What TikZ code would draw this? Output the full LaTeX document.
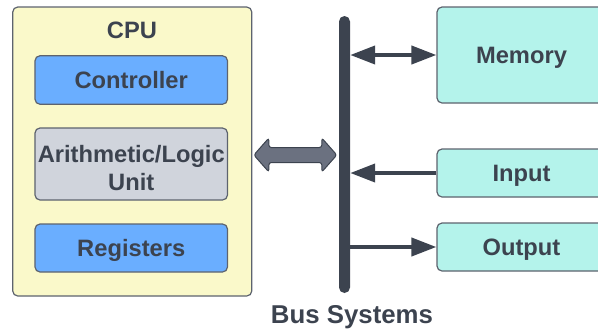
\documentclass[tikz,border=0pt]{standalone}
\usepackage{fontspec}
\setmainfont{Liberation Sans}
\usetikzlibrary{arrows.meta,calc}

\definecolor{ink}{HTML}{3C434F}
\definecolor{edge}{HTML}{5D636E}
\definecolor{cpufill}{HTML}{FAF9CA}
\definecolor{unitblue}{HTML}{6AAEFF}
\definecolor{unitgray}{HTML}{D0D4DC}
\definecolor{devfill}{HTML}{B4F3EB}
\definecolor{widefill}{HTML}{6B7180}

\tikzset{
  box/.style={draw=edge, line width=1.2bp, rounded corners=5bp, text=ink,
    inner sep=0pt, align=center, text height=17bp, text depth=0pt,
    font=\bfseries\fontsize{23.7bp}{28.3bp}\selectfont},
  unitbox/.style={box, minimum width=192.5bp},
  devbox/.style={box, fill=devfill, minimum width=169bp},
  label/.style={text=ink, inner sep=0pt, text height=17bp, text depth=0pt,
    font=\bfseries\fontsize{23.7bp}{28.3bp}\selectfont},
  conn/.style={draw=ink, line width=4bp,
    arrows={-Triangle[length=25bp,width=18bp]}},
}

\begin{document}
\begin{tikzpicture}[x=1bp,y=-1bp]
\useasboundingbox (0,0) rectangle (598,328);
\clip (0,0) rectangle (598,328);

% processor and its units
\node[box, fill=cpufill, minimum width=239bp, minimum height=289bp] (cpu) at (132.25,151.5) {};
\node[label] (cputitle) at (132,29.5) {CPU};
\node[unitbox, fill=unitblue, minimum height=48.5bp] (ctrl) at (131.25,80) {Controller};
\node[unitbox, fill=unitgray, minimum height=72bp, text height=53.3bp] (alu) at (131.25,164) {Arithmetic/Logic\\Unit};
\node[unitbox, fill=unitblue, minimum height=48bp] (regs) at (131.25,248) {Registers};

% system bus
\node[fill=ink, rounded corners=5.5bp, minimum width=11bp, minimum height=277bp, inner sep=0pt] (bus) at (344.5,154.5) {};
\node[label, text height=18bp, font=\bfseries\fontsize{25.8bp}{30bp}\selectfont] (buslabel) at (352,314.5) {Bus Systems};

% devices
\node[devbox, minimum height=96bp] (mem) at (521.5,55) {Memory};
\node[devbox, minimum height=48bp] (in) at (521.5,173) {Input};
\node[devbox, minimum height=48bp] (out) at (521.5,247) {Output};

% bus connections
\draw[conn, arrows={Triangle[length=25bp,width=18bp]-Triangle[length=25bp,width=18bp]}]
  (bus.east |- mem.west) -- (mem.west);
\draw[conn] (in.west) -- (bus.east |- in.west);
\draw[conn] (bus.east |- out.west) -- (out.west);

% wide two-way arrow between processor and bus
\coordinate (wl) at ($(cpu.east)+(1.5,155-151.5)$);
\coordinate (wr) at ($(bus.west |- wl)+(-2,0)$);
\draw[fill=widefill, draw=ink, line width=1bp, rounded corners=2.5bp]
  (wl) -- ($(wl)+(15,-17)$) -- ($(wl)+(15,-7.5)$) -- ($(wr)+(-15,-7.5)$)
  -- ($(wr)+(-15,-17)$) -- (wr) -- ($(wr)+(-15,17)$) -- ($(wr)+(-15,7.5)$)
  -- ($(wl)+(15,7.5)$) -- ($(wl)+(15,17)$) -- cycle;
\end{tikzpicture}
\end{document}
